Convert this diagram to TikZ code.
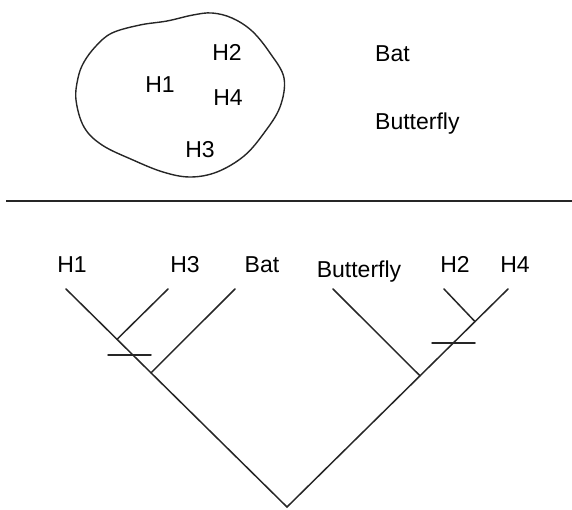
\documentclass[tikz,border=0pt]{standalone}
\usepackage{fontspec}
\setmainfont{Liberation Sans}
\begin{document}
\begin{tikzpicture}[x=1pt,y=-1pt,
  lbl/.style={anchor=base,inner sep=0pt,font=\fontsize{23}{27}\selectfont},
  lbll/.style={anchor=base west,inner sep=0pt,font=\fontsize{23}{27}\selectfont},
  ln/.style={line width=1.5pt,line cap=round,black!85}]
\useasboundingbox (0,0) rectangle (572,509);
% blob
\draw[ln,line width=1.4pt] plot[smooth cycle,tension=0.6] coordinates {
 (76,100) (78,78) (84,62) (96,46) (112,33) (140,25) (167,21) (193,15) (212,13)
 (232,18) (252,31) (270,53) (284,78) (280,107) (264,133) (244,156) (217,172)
 (190,177) (163,172) (133,160) (102,145) (84,127)};
\node[lbl] (t1) at (160,92) {H1};
\node[lbl] (t2) at (227,60) {H2};
\node[lbl] (t4) at (228,105) {H4};
\node[lbl] (t3) at (200,157) {H3};
\node[lbll] (tbat) at (375,61) {Bat};
\node[lbll] (tbut) at (375,129) {Butterfly};
% separator
\coordinate (s1) at (6,201);
\coordinate (s2) at (572,201);
\draw[ln,line cap=butt] (s1) -- (s2);
% tree
\coordinate (R) at (287,507);
\coordinate (lH1) at (66,289);
\coordinate (lH3) at (168,289);
\coordinate (lBat) at (235,289);
\coordinate (lBut) at (333,289);
\coordinate (lH2) at (444,289);
\coordinate (lH4) at (508,289);
\coordinate (jA) at (117,339.3);
\coordinate (jB) at (151,372.8);
\coordinate (jC) at (420,375.8);
\coordinate (jD) at (475,321.6);
\coordinate (hL1) at (108,355);
\coordinate (hL2) at (151,355);
\coordinate (hR1) at (432,343);
\coordinate (hR2) at (475,343);
\draw[ln] (lH1) -- (R) -- (lH4);
\draw[ln] (lH3) -- (jA);
\draw[ln] (lBat) -- (jB);
\draw[ln] (lBut) -- (jC);
\draw[ln] (lH2) -- (jD);
\draw[ln] (hL1) -- (hL2);
\draw[ln] (hR1) -- (hR2);
\node[lbl] (bH1) at (72,272) {H1};
\node[lbl] (bH3) at (185,272) {H3};
\node[lbl] (bBat) at (262,272) {Bat};
\node[lbl] (bBut) at (359,277) {Butterfly};
\node[lbl] (bH2) at (455,272) {H2};
\node[lbl] (bH4) at (515,272) {H4};
\end{tikzpicture}
\end{document}
